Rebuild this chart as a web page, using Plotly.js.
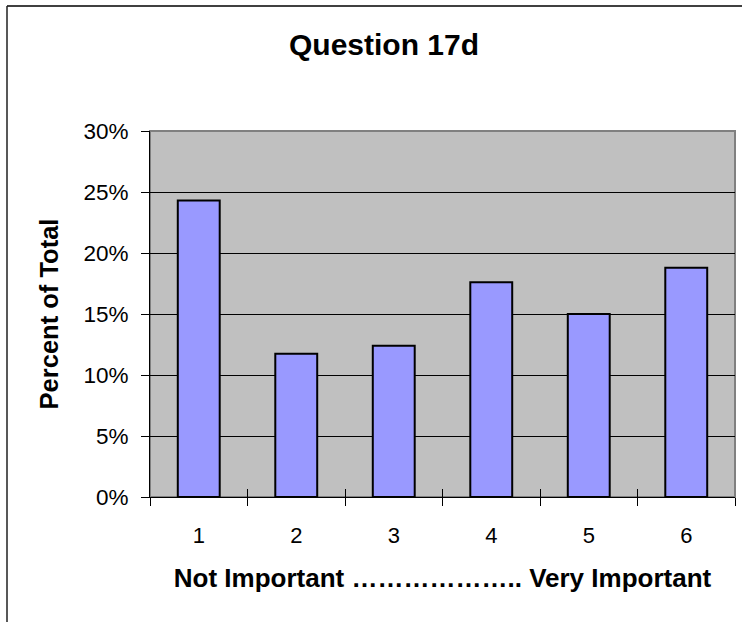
<!DOCTYPE html>
<html>
<head>
<meta charset="utf-8">
<script src="https://cdn.plot.ly/plotly-3.0.1.min.js"></script>
<style>html,body{margin:0;padding:0;background:#fff;}#chart{width:742px;height:622px;}</style>
</head>
<body>
<div id="chart"></div>
<script>
const categories = [1, 2, 3, 4, 5, 6];
const categoryLabels = ["1", "2", "3", "4", "5", "6"];
const percentValues = [24.3, 11.75, 12.4, 17.6, 15.0, 18.8];
const yTickValues = [0, 5, 10, 15, 20, 25, 30];
const boundaryTicks = [0.5, 1.5, 2.5, 3.5, 4.5, 5.5, 6.5];

const font = "Liberation Sans, Arial, sans-serif";

const trace = {
  type: "bar",
  x: categories,
  y: percentValues,
  width: 0.43,
  marker: { color: "#9999FF", line: { color: "#000000", width: 2 } },
  hoverinfo: "none"
};

const layout = {
  width: 742, height: 622,
  margin: { l: 150, r: 7, t: 131, b: 125 },
  paper_bgcolor: "#FFFFFF",
  plot_bgcolor: "#C0C0C0",
  showlegend: false,
  font: { family: font, color: "#000", size: 22 },
  title: {
    text: "<b>Question 17d</b>",
    font: { family: font, size: 30, color: "#000" },
    x: (384 - 150) / 585, xref: "paper", xanchor: "center",
    y: 1 - 44 / 622, yref: "container", yanchor: "middle"
  },
  xaxis: {
    type: "linear",
    range: [0.5, 6.5],
    tickvals: categories,
    ticktext: categoryLabels,
    ticks: "",
    minor: { tickvals: boundaryTicks, ticks: "outside", ticklen: 8, tickcolor: "#000", tickwidth: 1 },
    ticklabelstandoff: 19,
    tickfont: { family: font, size: 22 },
    showgrid: false,
    zeroline: false,
    showline: true, linecolor: "#000", linewidth: 1,
    title: {
      text: "<b>Not Important ……………….. Very Important</b>",
      font: { family: font, size: 26 },
      standoff: 21
    },
    fixedrange: true
  },
  xaxis2: {
    type: "linear",
    overlaying: "x",
    range: [0.5, 6.5],
    tickvals: boundaryTicks,
    ticktext: boundaryTicks.map(() => ""),
    ticks: "inside", ticklen: 8, tickcolor: "#000", tickwidth: 1,
    showgrid: false, zeroline: false, showline: false,
    side: "bottom", anchor: "y"
  },
  yaxis: {
    range: [0, 30],
    tickvals: yTickValues,
    ticktext: yTickValues.map(v => v + "%"),
    ticks: "outside", ticklen: 8, tickcolor: "#000", tickwidth: 1,
    ticklabelstandoff: 8,
    tickfont: { family: font, size: 22.5 },
    showgrid: true, gridcolor: "#000", gridwidth: 1,
    zeroline: false,
    showline: true, linecolor: "#000", linewidth: 1,
    title: {
      text: "<b>Percent of Total</b>",
      font: { family: font, size: 25.5 },
      standoff: 17
    },
    fixedrange: true
  },
  shapes: [
    { type: "rect", xref: "paper", yref: "paper", x0: 0, x1: 1, y0: 0, y1: 1,
      line: { color: "#808080", width: 2 }, layer: "below" },
    { type: "line", xref: "paper", yref: "paper",
      x0: (7 - 150) / 585, x1: (742 - 150) / 585, y0: (497 - 6) / 366, y1: (497 - 6) / 366,
      line: { color: "#404040", width: 2 } },
    { type: "line", xref: "paper", yref: "paper",
      x0: (7 - 150) / 585, x1: (7 - 150) / 585, y0: (497 - 6) / 366, y1: (497 - 625) / 366,
      line: { color: "#202020", width: 1.5 } }
  ]
};

Plotly.newPlot("chart", [trace, { type: "scatter", x: [], y: [], xaxis: "x2", yaxis: "y", hoverinfo: "none" }], layout, { staticPlot: true, displayModeBar: false });
</script>
</body>
</html>
